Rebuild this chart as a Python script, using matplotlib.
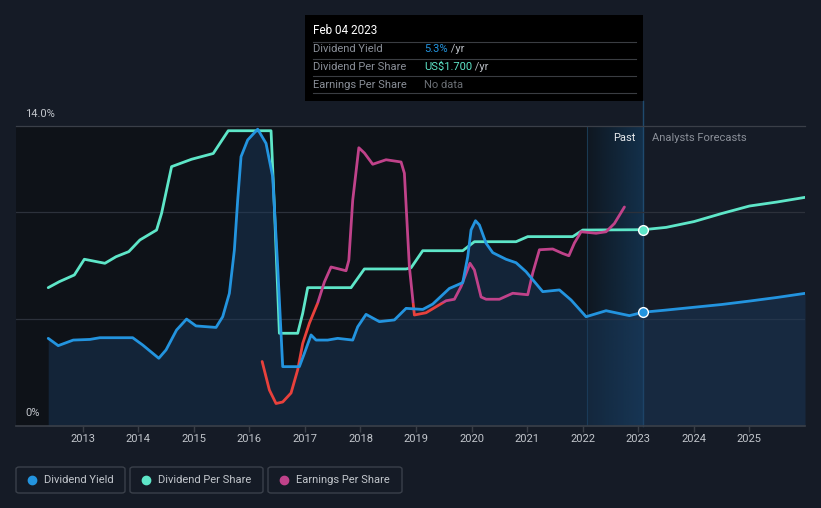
import matplotlib
matplotlib.use("Agg")
import matplotlib.pyplot as plt
from matplotlib.patches import Rectangle, FancyBboxPatch
from matplotlib.lines import Line2D
import numpy as np

plt.rcParams['font.family'] = ['Roboto', 'DejaVu Sans']

# ---------------- data ----------------
yield_x = [2012.38, 2012.56, 2012.83, 2013.13, 2013.31, 2013.9, 2014.08, 2014.37, 2014.5, 2014.69,
           2014.87, 2015.04, 2015.4, 2015.52, 2015.64, 2015.73, 2015.79, 2015.85, 2015.97, 2016.15,
           2016.3, 2016.42, 2016.51, 2016.6, 2016.9, 2016.99, 2017.11, 2017.2, 2017.41, 2017.59,
           2017.86, 2017.95, 2018.1, 2018.34, 2018.61, 2018.82, 2019.12, 2019.3, 2019.6, 2019.84,
           2019.93, 2019.99, 2020.07, 2020.14, 2020.26, 2020.38, 2020.62, 2020.8, 2020.98, 2021.28,
           2021.58, 2021.79, 2022.06, 2022.42, 2022.84, 2023.09]
yield_y = [4.09, 3.75, 4.01, 4.04, 4.12, 4.12, 3.78, 3.16, 3.55, 4.48,
           4.99, 4.67, 4.6, 5.1, 6.19, 8.21, 10.55, 12.57, 13.35, 13.85,
           13.19, 11.63, 7.43, 2.77, 2.77, 3.39, 4.25, 4.01, 4.01, 4.09,
           4.01, 4.63, 5.21, 4.87, 4.95, 5.49, 5.44, 5.69, 6.42, 6.69,
           7.9, 9.15, 9.58, 9.38, 8.53, 8.09, 7.78, 7.62, 7.2, 6.27,
           6.35, 5.88, 5.1, 5.38, 5.15, 5.31]
yield_fc_x = [2023.09, 2023.5, 2024.0, 2024.5, 2025.0, 2025.5, 2026.0]
yield_fc_y = [5.31, 5.41, 5.54, 5.67, 5.83, 6.0, 6.19]

dps_x = [2012.38, 2012.58, 2012.85, 2013.03, 2013.4, 2013.6, 2013.83, 2014.03, 2014.33, 2014.42,
         2014.6, 2014.96, 2015.35, 2015.47, 2015.62, 2016.39, 2016.45, 2016.54, 2016.87, 2016.96,
         2017.05, 2017.83, 2018.07, 2018.82, 2018.91, 2019.12, 2019.84, 2020.05, 2020.8, 2021.01,
         2021.82, 2022.0, 2023.09]
dps_y = [1.198, 1.25, 1.308, 1.444, 1.409, 1.466, 1.51, 1.611, 1.697, 1.842,
         2.246, 2.31, 2.36, 2.448, 2.557, 2.557, 1.9, 0.803, 0.803, 0.976,
         1.198, 1.198, 1.36, 1.36, 1.37, 1.518, 1.518, 1.596, 1.596, 1.64,
         1.64, 1.697, 1.70]
dps_fc_x = [2023.09, 2023.5, 2024.0, 2024.5, 2025.0, 2025.5, 2026.0]
dps_fc_y = [1.70, 1.72, 1.77, 1.84, 1.905, 1.94, 1.98]

eps_x = [2016.23, 2016.36, 2016.48, 2016.6, 2016.75, 2016.87, 2016.96, 2017.08, 2017.23, 2017.35,
         2017.47, 2017.74, 2017.79, 2017.86, 2017.97, 2018.07, 2018.22, 2018.46, 2018.73, 2018.79,
         2018.88, 2018.97, 2019.18, 2019.36, 2019.54, 2019.69, 2019.81, 2019.97, 2020.05, 2020.17,
         2020.26, 2020.5, 2020.74, 2021.01, 2021.1, 2021.22, 2021.46, 2021.64, 2021.75, 2021.85,
         2021.97, 2022.24, 2022.42, 2022.57, 2022.75]
eps_y = [-0.78, -1.16, -1.34, -1.32, -1.2, -0.89, -0.54, -0.27, 0.0, 0.28,
         0.48, 0.43, 0.57, 1.37, 2.07, 2.0, 1.85, 1.91, 1.88, 1.73,
         0.48, -0.16, -0.13, -0.05, 0.03, 0.05, 0.22, 0.53, 0.44, 0.08,
         0.05, 0.05, 0.13, 0.11, 0.4, 0.71, 0.72, 0.66, 0.63, 0.8,
         0.95, 0.93, 0.95, 1.06, 1.28]

years = [2013, 2014, 2015, 2016, 2017, 2018, 2019, 2020, 2021, 2022, 2023, 2024, 2025]
now_x = 2023.09
past_start = 2022.08

# ---------------- style ----------------
BG = '#151b26'
PAST_BG = '#0e1218'
BLUE = '#2394df'
TEAL = '#5ee6c8'
MAG = '#c0428a'
RED = '#e8413c'
GRID = '#2c313b'
TXT = '#c2c6cc'
FS = 8

W, H = 821, 508
fig = plt.figure(figsize=(W / 100, H / 100), dpi=100, facecolor=BG)

def fx(px):
    return px / W

def fy(py):
    return 1 - py / H

ax = fig.add_axes([fx(16), fy(426), fx(805) - fx(16), fy(126) - fy(426)])
ax.set_facecolor(BG)
ax.set_xlim(2011.8, 2026.0)
ax.set_ylim(0, 14)
for s in ['top', 'right', 'left']:
    ax.spines[s].set_visible(False)
ax.spines['bottom'].set_color('#3a3f48')
ax.spines['bottom'].set_linewidth(1.2)

# dark past background
ax.add_patch(Rectangle((2011.8, 0), now_x - 2011.8, 14, facecolor=PAST_BG, edgecolor='none', zorder=0))

# past band gradient
grad = np.linspace(0, 1, 256).reshape(1, -1)
rgba = np.zeros((1, 256, 4))
rgba[..., 0] = 0x1a / 255
rgba[..., 1] = 0x55 / 255
rgba[..., 2] = 0x88 / 255
rgba[..., 3] = 0.08 + 0.38 * grad
ax.imshow(rgba, extent=(past_start, now_x, 0, 14), aspect='auto', zorder=0.5, interpolation='bilinear')
ax.axvline(past_start, color='#1a3a52', lw=0.8, zorder=0.6)
ax.plot([now_x, now_x], [0, 15.17], color='#1f4a6e', lw=1.0, zorder=0.6, clip_on=False)

# grid
for g in [5, 10]:
    ax.axhline(g, color=GRID, lw=0.9, zorder=1)
ax.plot([2011.8, 2026.0], [14, 14], color='#3a3f48', lw=0.9, zorder=1, clip_on=False)

# yield fill
fill_x = yield_x + yield_fc_x[1:]
fill_y = yield_y + yield_fc_y[1:]
ax.fill_between(fill_x, 0, fill_y, color='#1b3c60', alpha=0.45, lw=0, zorder=2)

# DPS twin axis
ax2 = ax.twinx()
ax2.set_ylim(0, 2.598)
ax2.axis('off')
ax2.set_position(ax.get_position())
ax2.plot(dps_x, dps_y, color=TEAL, lw=2.0, zorder=3, solid_capstyle='round', solid_joinstyle='round')
ax2.plot(dps_fc_x, dps_fc_y, color=TEAL, lw=2.0, zorder=3, solid_capstyle='round', solid_joinstyle='round')
ax2.plot([now_x], [1.70], 'o', ms=7, mfc=TEAL, mec='white', mew=1.0, zorder=6)

# EPS twin axis
ax3 = ax.twinx()
ax3.set_ylim(-1.64, 2.36)
ax3.axis('off')
ax3.set_position(ax.get_position())
lm, = ax3.plot(eps_x, eps_y, color=MAG, lw=2.0, zorder=3, solid_capstyle='round', solid_joinstyle='round')
lr, = ax3.plot(eps_x, eps_y, color=RED, lw=2.0, zorder=3, solid_capstyle='round', solid_joinstyle='round')
pos_clip = Rectangle((2011.8, 0), 15, 10, transform=ax3.transData)
neg_clip = Rectangle((2011.8, -10), 15, 10, transform=ax3.transData)
lm.set_clip_path(pos_clip)
lr.set_clip_path(neg_clip)

# yield line on top axes
ax4 = ax.twinx()
ax4.set_ylim(0, 14)
ax4.axis('off')
ax4.set_position(ax.get_position())
ax4.plot(yield_x, yield_y, color=BLUE, lw=2.0, zorder=4, solid_capstyle='round', solid_joinstyle='round')
ax4.plot(yield_fc_x, yield_fc_y, color=BLUE, lw=2.0, zorder=4, solid_capstyle='round', solid_joinstyle='round')
ax4.plot([now_x], [5.31], 'o', ms=7, mfc=BLUE, mec='white', mew=1.0, zorder=6)

# ticks
ax.set_yticks([])
ax.set_xticks(years)
ax.set_xticklabels([str(y) for y in years], color=TXT, fontsize=FS)
ax.tick_params(axis='x', length=4, color='#3a3f48', pad=2, width=1)

fig.text(fx(25), fy(114), '14.0%', color=TXT, fontsize=FS, va='center', ha='left')
fig.text(fx(25), fy(413), '0%', color=TXT, fontsize=FS, va='center', ha='left')
fig.text(fx(636), fy(138), 'Past', color='#e8eaed', fontsize=FS, va='center', ha='right')
fig.text(fx(652), fy(138), 'Analysts Forecasts', color='#8a8f98', fontsize=FS, va='center', ha='left')

# tooltip
fig.patches.append(Rectangle((fx(305), fy(101)), fx(643) - fx(305), fy(15) - fy(101),
                             transform=fig.transFigure, facecolor='#000000', edgecolor='none', zorder=10))
fig.text(fx(313), fy(31), 'Feb 04 2023', color='white', fontsize=8.5, va='center', ha='left', zorder=11)
for ly in [41.5, 58.5, 76, 92.5]:
    fig.add_artist(Line2D([fx(313), fx(636)], [fy(ly), fy(ly)], color='#3a3d42', lw=0.8, zorder=11))
rows = [('Dividend Yield', '5.3%', BLUE, ' /yr'),
        ('Dividend Per Share', 'US$1.700', TEAL, ' /yr'),
        ('Earnings Per Share', 'No data', '#6b6f75', '')]
for i, (lab, val, col, suf) in enumerate(rows):
    yy = fy(49.5 + i * 17.5)
    fig.text(fx(313), yy, lab, color='#8a8f98', fontsize=FS, va='center', ha='left', zorder=11)
    t = fig.text(fx(424), yy, val, color=col, fontsize=FS, va='center', ha='left', zorder=11)
    if suf:
        fig.canvas.draw()
        bb = t.get_window_extent()
        fig.text(bb.x1 / W, yy, suf, color='#b8bcc2', fontsize=FS, va='center', ha='left', zorder=11)

# legend
legend = [('Dividend Yield', BLUE, 16, 125), ('Dividend Per Share', TEAL, 130, 263),
          ('Earnings Per Share', MAG, 268, 402)]
for lab, col, x0, x1 in legend:
    fig.patches.append(FancyBboxPatch((fx(x0), fy(493)), fx(x1) - fx(x0), fy(467) - fy(493),
                                      boxstyle='round,pad=0,rounding_size=0.004',
                                      transform=fig.transFigure, facecolor=BG,
                                      edgecolor='#3a404a', lw=1.0, zorder=10))
    fig.add_artist(Line2D([fx(x0 + 16)], [fy(480)], marker='o', ms=6, color=col, lw=0, zorder=11))
    fig.text(fx(x0 + 28), fy(480), lab, color=TXT, fontsize=FS, va='center', ha='left', zorder=11)

fig.savefig('out.png', dpi=100, facecolor=BG)
